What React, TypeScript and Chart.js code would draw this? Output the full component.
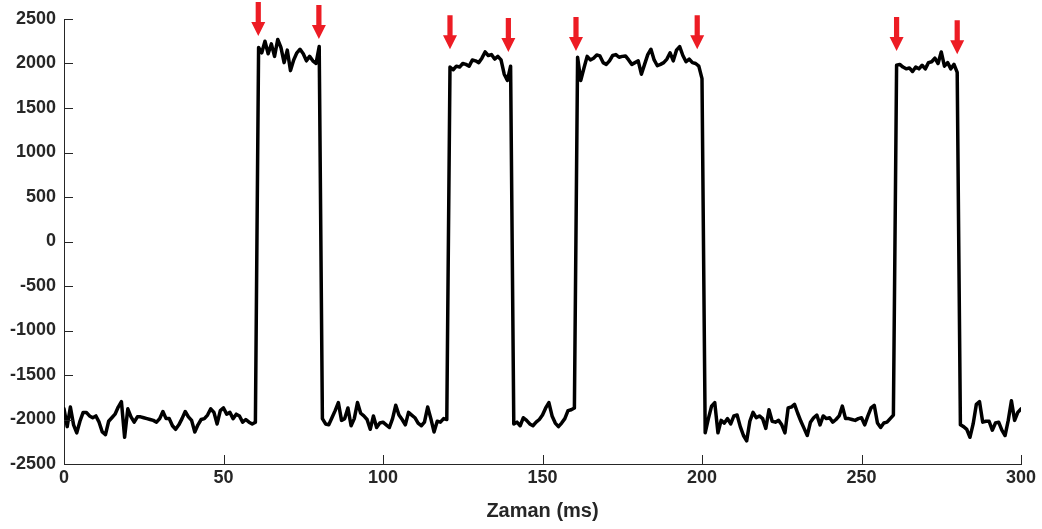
import React, { useEffect, useRef } from "react";
import { Chart, registerables } from "chart.js";

Chart.register(...registerables);

// Signal segments (ms start index, 1 ms step)
const segmentStarts = [0, 61, 81, 121, 141, 161, 201, 261, 281];

const low1 = [
  -1880, -2080, -1860, -2060, -2150, -2020, -1920, -1920, -1960, -1980,
  -1960, -2030, -2140, -2170, -2020, -1980, -1940, -1860, -1800, -2200,
  -1880, -1970, -2030, -1970, -1970, -1980, -1990, -2000, -2010, -2030,
  -1990, -1910, -1990, -1990, -2070, -2110, -2060, -1990, -1910, -1970,
  -2010, -2140, -2060, -2000, -1990, -1950, -1880, -1920, -2050, -1900,
  -1870, -1940, -1920, -1990, -1940, -1960, -2030, -2000, -2030, -2050,
  -2030,
];
const high1 = [
  2180, 2120, 2250, 2110, 2220, 2080, 2270, 2180, 2010, 2150,
  1920, 2040, 2120, 2160, 2110, 2030, 2080, 2030, 2000, 2190,
];
const low2 = [
  -1990, -2050, -2060, -1980, -1900, -1810, -2010, -1990, -1870, -2070,
  -1990, -1810, -1930, -1960, -2000, -2110, -1960, -2090, -2040, -2030,
  -2060, -2090, -1990, -1840, -1950, -2000, -2060, -1920, -1950, -1980,
  -2040, -2070, -2030, -1860, -1990, -2140, -2020, -2030, -1990, -2000,
];
const high2 = [
  1960, 1930, 1970, 1960, 2000, 1990, 1970, 2040, 2030, 2010,
  2060, 2130, 2090, 2100, 2050, 2080, 2040, 1880, 1810, 1970,
];
const low3 = [
  -2050, -2030, -2070, -1980, -2010, -2050, -2070, -2030, -2000, -1950,
  -1870, -1810, -1960, -2040, -2080, -2040, -1990, -1900, -1890, -1870,
];
const high3 = [
  2070, 1810, 1950, 2080, 2040, 2060, 2095, 2085, 2010, 1990,
  2030, 2090, 2100, 2070, 2080, 2085, 2040, 1990, 2010, 2030,
  1880, 1990, 2100, 2160, 2040, 1975, 1990, 2010, 2050, 2120,
  2030, 2150, 2190, 2090, 2020, 2050, 2010, 2000, 1970, 1830,
];
const low4 = [
  -2150, -1990, -1850, -1810, -2150, -2010, -2040, -1990, -2050, -1960,
  -1950, -2080, -2180, -2240, -2020, -1920, -1980, -1960, -1990, -2100,
  -1890, -2020, -2030, -2010, -2060, -2150, -1870, -1860, -1830, -1930,
  -2020, -2100, -2180, -2030, -1980, -1950, -2060, -1960, -1990, -1980,
  -2030, -2000, -1960, -1850, -1990, -1990, -2000, -2010, -1990, -1980,
  -2060, -1960, -1870, -1840, -2040, -2090, -2040, -2030, -1990, -1950,
];
const high4 = [
  1980, 1990, 1960, 1940, 1950, 1910, 1960, 1940, 1980, 1940,
  2010, 2020, 2060, 2000, 2130, 1970, 2010, 1940, 1990, 1900,
];
const low5 = [
  -2060, -2080, -2110, -2200, -2050, -1830, -1800, -2030, -2020, -2020,
  -2120, -2040, -2030, -2120, -2180, -2010, -1790, -2010, -1920, -1880,
];

const segments = [low1, high1, low2, high2, low3, high3, low4, high4, low5];

// Red arrow markers: x (ms) and tip value
const arrowX = [60.9, 79.9, 121, 139.3, 160.5, 198.5, 261, 280];
const arrowTipY = [2310, 2275, 2160, 2130, 2140, 2160, 2140, 2105];

const xMin = 0;
const xMax = 300;
const xStep = 50;
const yMin = -2500;
const yMax = 2500;
const yStep = 500;
const xTitle = "Zaman (ms)";

const FONT = "'Liberation Sans', Arial, Helvetica, sans-serif";
const AXIS_COLOR = "#262626";

const decorPlugin = {
  id: "decor",
  afterDraw(chart: any) {
    const { ctx, chartArea, scales } = chart;
    const xs = scales.x;
    const ys = scales.y;
    ctx.save();
    ctx.strokeStyle = AXIS_COLOR;
    ctx.lineWidth = 1;
    const L = 9;
    ctx.beginPath();
    xs.ticks.forEach((t: any) => {
      const px = Math.round(xs.getPixelForValue(t.value)) + 0.5;
      ctx.moveTo(px, chartArea.bottom);
      ctx.lineTo(px, chartArea.bottom - L);
    });
    ys.ticks.forEach((t: any) => {
      const py = Math.round(ys.getPixelForValue(t.value)) + 0.5;
      ctx.moveTo(chartArea.left, py);
      ctx.lineTo(chartArea.left + L, py);
    });
    ctx.stroke();

    ctx.fillStyle = "#ed1c24";
    arrowX.forEach((ax, i) => {
      const px = xs.getPixelForValue(ax);
      const tip = ys.getPixelForValue(arrowTipY[i]);
      const len = 34;
      const head = 14;
      const hw = 7;
      const sw = 2.6;
      ctx.beginPath();
      ctx.moveTo(px - sw, tip - len);
      ctx.lineTo(px + sw, tip - len);
      ctx.lineTo(px + sw, tip - head);
      ctx.lineTo(px + hw, tip - head);
      ctx.lineTo(px, tip);
      ctx.lineTo(px - hw, tip - head);
      ctx.lineTo(px - sw, tip - head);
      ctx.closePath();
      ctx.fill();
    });
    ctx.restore();
  },
};

export default function App() {
  const canvasRef = useRef<HTMLCanvasElement | null>(null);

  useEffect(() => {
    if (!canvasRef.current) return;
    const points = segments.flatMap((seg, s) =>
      seg.map((v, i) => ({ x: segmentStarts[s] + i, y: v }))
    );
    const chart = new Chart(canvasRef.current, {
      type: "line",
      data: {
        datasets: [
          {
            data: points,
            borderColor: "#000000",
            borderWidth: 3.5,
            pointRadius: 0,
            tension: 0,
            borderJoinStyle: "round",
            borderCapStyle: "round",
            fill: false,
          },
        ],
      },
      options: {
        animation: false,
        responsive: true,
        maintainAspectRatio: false,
        devicePixelRatio: 1,
        layout: { padding: { top: 19, right: 21, bottom: 0, left: 0 } },
        plugins: {
          legend: { display: false },
          tooltip: { enabled: false },
        },
        scales: {
          x: {
            type: "linear",
            min: xMin,
            max: xMax,
            ticks: {
              stepSize: xStep,
              padding: 3,
              autoSkip: false,
              maxRotation: 0,
              color: AXIS_COLOR,
              font: { family: FONT, size: 18, weight: "bold" },
              callback: (v: any) => String(v),
            },
            grid: { display: false, drawTicks: false },
            border: { display: true, color: AXIS_COLOR, width: 1 },
            title: {
              display: true,
              text: xTitle,
              color: AXIS_COLOR,
              font: { family: FONT, size: 20, weight: "bold" },
              padding: { top: 0, bottom: 6 },
            },
            afterFit: (s: any) => {
              s.height = 65;
            },
          },
          y: {
            type: "linear",
            min: yMin,
            max: yMax,
            ticks: {
              stepSize: yStep,
              padding: 8,
              color: AXIS_COLOR,
              font: { family: FONT, size: 18, weight: "bold" },
              callback: (v: any) => String(v),
            },
            grid: { display: false, drawTicks: false },
            border: { display: true, color: AXIS_COLOR, width: 1 },
            afterFit: (s: any) => {
              s.width = 64;
            },
          },
        },
      } as any,
      plugins: [decorPlugin],
    });
    return () => chart.destroy();
  }, []);

  return (
    <div
      style={{
        position: "fixed",
        left: 0,
        top: 0,
        width: 1042,
        height: 529,
        background: "#ffffff",
      }}
    >
      <canvas ref={canvasRef} />
    </div>
  );
}
